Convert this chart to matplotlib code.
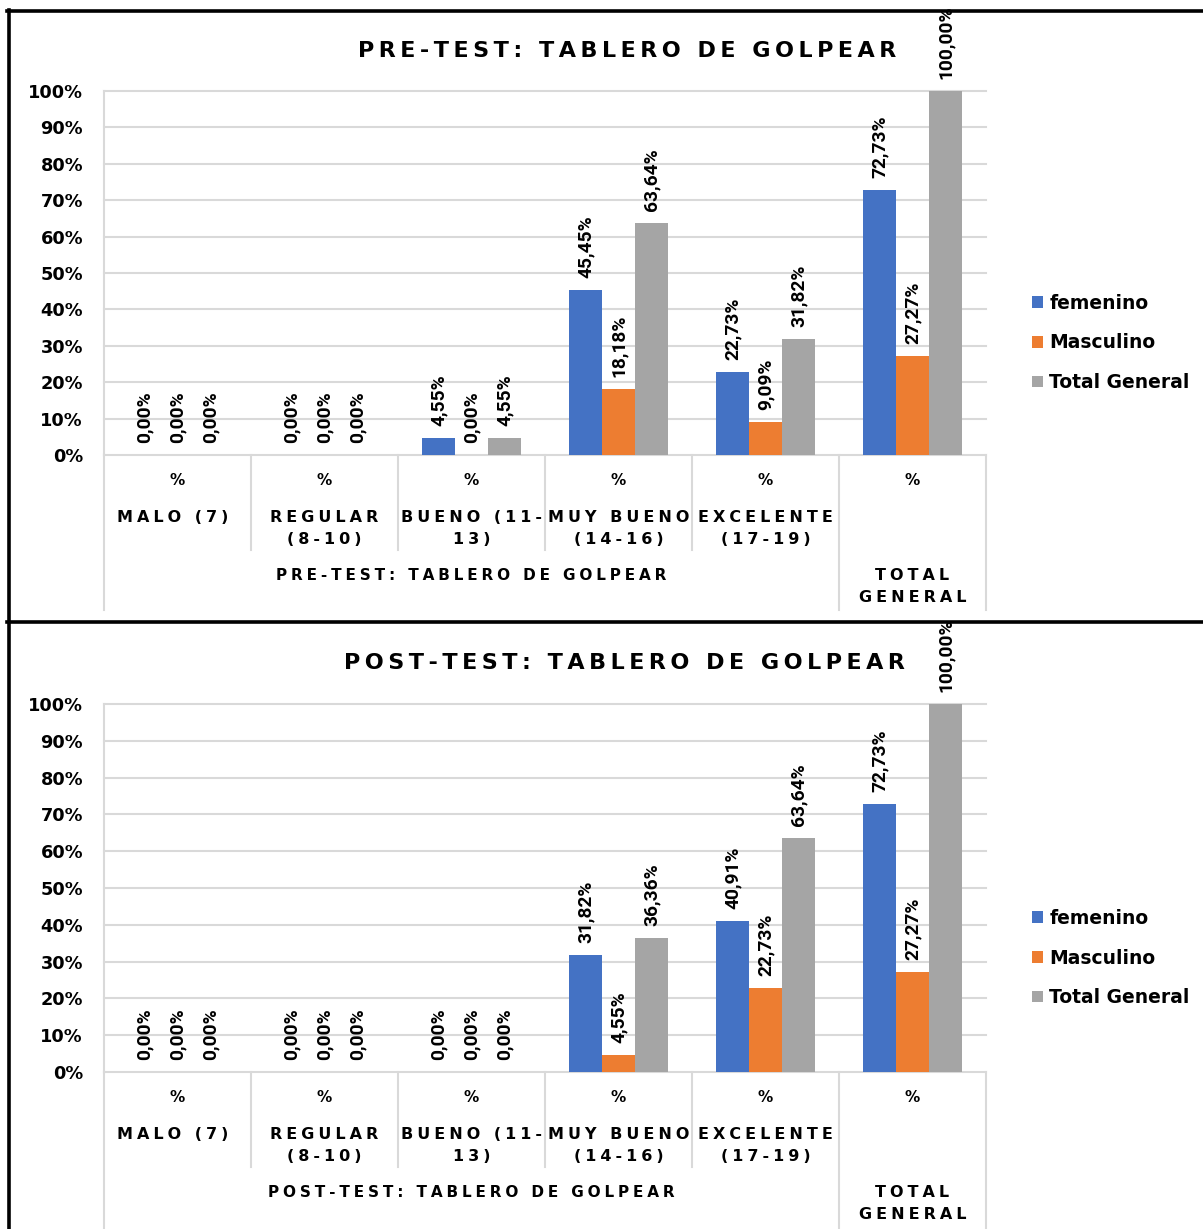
import matplotlib
matplotlib.use("Agg")
import matplotlib.pyplot as plt
from matplotlib.lines import Line2D
from matplotlib.transforms import blended_transform_factory
import numpy as np

W, H, DPI = 1203, 1229, 100

levels = ["MALO (7)", "REGULAR\n(8-10)", "BUENO (11-\n13)",
          "MUY BUENO\n(14-16)", "EXCELENTE\n(17-19)", "TOTAL\nGENERAL"]
series_names = ["femenino", "Masculino", "Total General"]
colors = ["#4472C4", "#ED7D31", "#A5A5A5"]
y_ticks = [0, 10, 20, 30, 40, 50, 60, 70, 80, 90, 100]

pre_femenino = [0.00, 0.00, 4.55, 45.45, 22.73, 72.73]
pre_masculino = [0.00, 0.00, 0.00, 18.18, 9.09, 27.27]
pre_total = [0.00, 0.00, 4.55, 63.64, 31.82, 100.00]

post_femenino = [0.00, 0.00, 0.00, 31.82, 40.91, 72.73]
post_masculino = [0.00, 0.00, 0.00, 4.55, 22.73, 27.27]
post_total = [0.00, 0.00, 0.00, 36.36, 63.64, 100.00]

pre_title = "PRE-TEST: TABLERO DE GOLPEAR"
post_title = "POST-TEST: TABLERO DE GOLPEAR"

NARROW = ["Roboto", "DejaVu Sans"]
BOLD = ["DejaVu Sans"]
GRID = "#d9d9d9"


def fx(px):
    return px / W


def fy(py):
    return 1 - py / H


def px2pt(px):
    return px * 72 / DPI


def spaced(s, gap="\u2005"):
    return "\n".join(gap.join(line) for line in s.split("\n"))


def pct(v):
    return f"{v:.2f}%".replace(".", ",")


fig = plt.figure(figsize=(W / DPI, H / DPI), dpi=DPI)
fig.patch.set_facecolor("white")


def panel(top_px, zero_px, title, title_x, title_y, fem, mas, tot, legend_y, bottom_end):
    ax = fig.add_axes([fx(104), fy(zero_px), fx(986) - fx(104), (zero_px - top_px) / H])
    n = len(levels)
    x = np.arange(n)
    w = 33 / 147
    for k, (vals, name, c) in enumerate(zip([fem, mas, tot], series_names, colors)):
        xs = x + (k - 1) * w
        ax.bar(xs, vals, width=w, color=c, label=name, zorder=3)
        for xi, v in zip(xs, vals):
            ax.annotate(pct(v), xy=(xi, v), xytext=(0, px2pt(12)),
                        textcoords="offset points", rotation=90,
                        ha="center", va="bottom", fontsize=13.8,
                        family=NARROW, fontweight="bold",
                        annotation_clip=False, zorder=4)
    ax.set_xlim(-0.5, n - 0.5)
    ax.set_ylim(0, 100)
    ax.set_yticks(y_ticks)
    ax.set_yticklabels([f"{t}%" for t in y_ticks], fontweight="bold",
                       fontsize=12.8, family=BOLD)
    ax.tick_params(axis="y", length=0, pad=px2pt(21))
    ax.set_xticks([])
    for t in y_ticks:
        ax.axhline(t, color=GRID, lw=1.5, zorder=0, clip_on=False)
    for s in ["top", "right", "bottom"]:
        ax.spines[s].set_visible(False)
    ax.spines["left"].set_color(GRID)
    ax.spines["left"].set_linewidth(1.5)

    tr = blended_transform_factory(ax.transData, fig.transFigure)
    for b in np.arange(n + 1) - 0.5:
        long_line = b in (-0.5, n - 1.5, n - 0.5)
        end = bottom_end if long_line else zero_px + 95
        fig.add_artist(Line2D([b, b], [fy(zero_px), fy(end)], transform=tr,
                              color=GRID, lw=1.5))
    for i, lab in enumerate(levels):
        fig.text(i, fy(zero_px + 30), "%", transform=tr, ha="center",
                 va="baseline", fontsize=11, fontweight="bold", family=BOLD)
        two_lines = "\n" in lab
        if i < n - 1:
            base = zero_px + (89 if two_lines else 67)
        else:
            base = zero_px + 147
        fig.text(i - 0.03 * (i == 0), fy(base), spaced(lab), transform=tr,
                 ha="center", va="baseline", fontsize=11.5, fontweight="bold",
                 family=BOLD, linespacing=1.55)
    fig.text((n - 2) / 2, fy(zero_px + 125), spaced(title), transform=tr,
             ha="center", va="baseline", fontsize=11, fontweight="bold", family=BOLD)

    fig.text(fx(title_x), fy(title_y), spaced(title, "\u2009"), ha="center",
             va="center", fontsize=16, fontweight="bold", family=BOLD)

    ax.legend(loc="center left", bbox_to_anchor=(fx(1024), fy(legend_y)),
              bbox_transform=fig.transFigure, frameon=False,
              prop={"family": BOLD, "weight": "bold", "size": 13.5},
              handlelength=0.6, handleheight=0.6, handletextpad=0.35,
              labelspacing=1.1, borderaxespad=0)
    return ax


panel(91, 455, pre_title, 627, 51, pre_femenino, pre_masculino, pre_total, 343, 610)
panel(704, 1072, post_title, 624, 663, post_femenino, post_masculino, post_total, 958, 1232)

# black frame around the two charts
for xs, ys in [((7, 1205), (11, 11)), ((7, 1205), (622, 622)), ((9, 9), (10, 1232))]:
    fig.add_artist(Line2D([fx(p) for p in xs], [fy(p) for p in ys],
                          color="black", lw=2.6))

fig.savefig("out.png", dpi=DPI)
